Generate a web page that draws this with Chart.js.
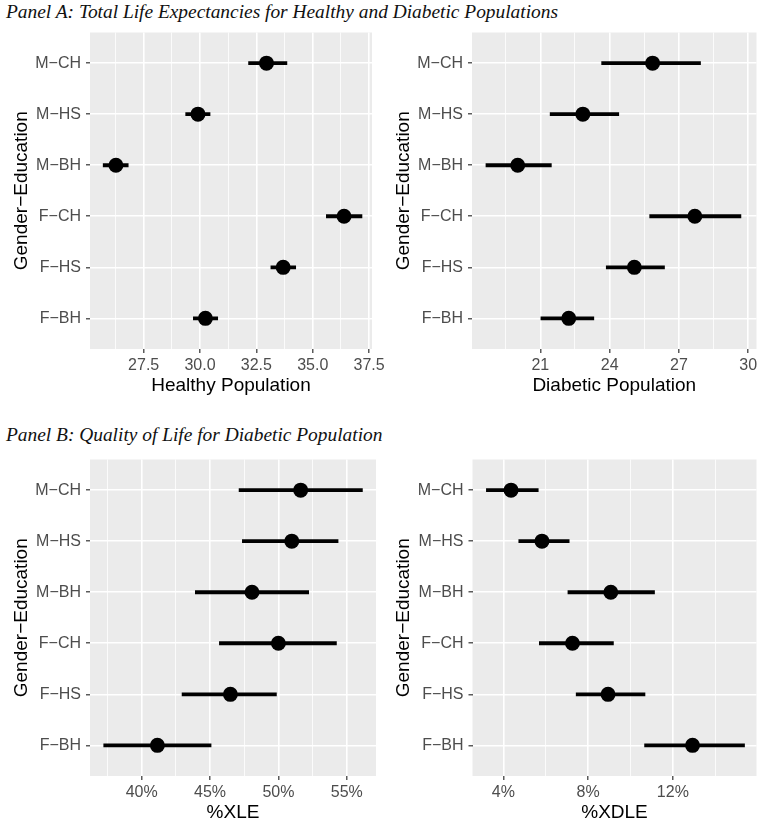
<!DOCTYPE html>
<html>
<head>
<meta charset="utf-8">
<script src="https://cdn.jsdelivr.net/npm/chart.js@4.4.0/dist/chart.umd.min.js"></script>
<style>
  body { margin: 0; background: #fff; width: 764px; height: 823px; position: relative; overflow: hidden; }
  .panel-title { position: absolute; left: 6px; font: italic 19.4px "Liberation Serif", serif; color: #111; white-space: nowrap; }
  canvas { position: absolute; }
</style>
</head>
<body>
<div class="panel-title" style="top:1px">Panel A: Total Life Expectancies for Healthy and Diabetic Populations</div>
<div class="panel-title" style="top:424px">Panel B: Quality of Life for Diabetic Population</div>
<canvas id="healthy" width="400" height="375" style="left:0;top:22px"></canvas>
<canvas id="xle" width="400" height="375" style="left:0;top:449px"></canvas>
<canvas id="diabetic" width="382" height="375" style="left:382px;top:22px"></canvas>
<canvas id="xdle" width="382" height="375" style="left:382px;top:449px"></canvas>
<script>
// rows, top to bottom
const categories = ["M\u2212CH", "M\u2212HS", "M\u2212BH", "F\u2212CH", "F\u2212HS", "F\u2212BH"];

// Panel A - healthy population life expectancy
const healthyPt = [32.95, 29.91, 26.27, 36.39, 33.69, 30.24];
const healthyLo = [32.14, 29.35, 25.69, 35.59, 33.13, 29.69];
const healthyHi = [33.87, 30.46, 26.83, 37.20, 34.26, 30.80];

// Panel A - diabetic population life expectancy
const diabeticPt = [25.86, 22.84, 20.02, 27.69, 25.07, 22.23];
const diabeticLo = [23.64, 21.41, 18.63, 25.72, 23.84, 21.01];
const diabeticHi = [27.95, 24.41, 21.49, 29.70, 26.39, 23.33];

// Panel B - %XLE
const xlePt = [51.63, 50.98, 48.07, 50.00, 46.49, 41.15];
const xleLo = [47.10, 47.34, 43.90, 45.66, 42.93, 37.20];
const xleHi = [56.17, 54.39, 52.24, 54.27, 49.88, 45.10];

// Panel B - %XDLE
const xdlePt = [4.36, 5.82, 9.07, 7.26, 8.94, 12.93];
const xdleLo = [3.18, 4.71, 7.03, 5.68, 7.42, 10.65];
const xdleHi = [5.66, 7.12, 11.15, 9.21, 10.70, 15.40];

const panelBg = {
  id: "panelBg",
  beforeDraw(chart) {
    const a = chart.chartArea;
    const ctx = chart.ctx;
    ctx.save();
    ctx.fillStyle = "#EBEBEB";
    ctx.fillRect(a.left, a.top, a.right - a.left, a.bottom - a.top);
    ctx.restore();
  }
};

function isMajor(v, major) {
  const r = v / major;
  return Math.abs(r - Math.round(r)) < 1e-6;
}

function makeChart(id, pts, lo, hi, o) {
  const datasets = [{
    data: pts.map((v, i) => ({ x: v, y: i })),
    pointRadius: 7.5,
    pointBackgroundColor: "#000",
    pointBorderWidth: 0,
    showLine: false
  }];
  lo.forEach((l, i) => {
    datasets.push({
      data: [{ x: l, y: i }, { x: hi[i], y: i }],
      showLine: true,
      borderColor: "#000",
      borderWidth: 3.8,
      borderCapStyle: "butt",
      pointRadius: 0
    });
  });

  const tickFont = { family: "'Liberation Sans', Arial, sans-serif", size: 16 };
  const titleFont = { family: "'Liberation Sans', Arial, sans-serif", size: 19 };

  new Chart(document.getElementById(id), {
    type: "scatter",
    data: { datasets },
    plugins: [panelBg],
    options: {
      responsive: false,
      animation: false,
      layout: { padding: { top: 10.5, right: o.padRight, bottom: 0, left: 0 } },
      plugins: { legend: { display: false }, tooltip: { enabled: false } },
      scales: {
        x: {
          type: "linear",
          min: o.min,
          max: o.max,
          afterFit: (s) => {
            s.height = 48;
            s.paddingLeft = 0;
            s.paddingRight = 0;
          },
          border: { display: false },
          grid: {
            color: "#FFFFFF",
            lineWidth: (c) => (isMajor(c.tick.value, o.major) ? 1.6 : 0.8),
            tickColor: (c) => (isMajor(c.tick.value, o.major) ? "#333333" : "rgba(0,0,0,0)"),
            tickLength: 4,
            tickWidth: 1.2
          },
          ticks: {
            stepSize: o.major / 2,
            includeBounds: false,
            autoSkip: false,
            maxRotation: 0,
            padding: 3,
            color: "#4D4D4D",
            font: tickFont,
            callback: (v) => (isMajor(v, o.major) ? o.fmt(v) : "")
          },
          title: { display: true, text: o.title, color: "#000", font: titleFont, padding: 0 }
        },
        y: {
          type: "linear",
          reverse: true,
          min: -0.6,
          max: 5.6,
          afterFit: (s) => {
            s.width = o.left;
            s.paddingTop = 0;
            s.paddingBottom = 0;
          },
          border: { display: false },
          grid: {
            color: "#FFFFFF",
            lineWidth: 1.6,
            tickColor: "#333333",
            tickLength: 4,
            tickWidth: 1.2
          },
          ticks: {
            stepSize: 1,
            includeBounds: false,
            autoSkip: false,
            padding: 5,
            color: "#4D4D4D",
            font: tickFont,
            callback: (v) => categories[v]
          },
          title: {
            display: true,
            text: "Gender\u2212Education",
            color: "#000",
            font: titleFont,
            padding: { top: 10, bottom: 0 }
          }
        }
      }
    }
  });
}

makeChart("healthy", healthyPt, healthyLo, healthyHi, {
  min: 25.12, max: 37.63, major: 2.5, left: 90, padRight: 28,
  title: "Healthy Population", fmt: (v) => v.toFixed(1)
});
makeChart("diabetic", diabeticPt, diabeticLo, diabeticHi, {
  min: 18.04, max: 30.36, major: 3, left: 90, padRight: 4.5,
  title: "Diabetic Population", fmt: (v) => String(v)
});
makeChart("xle", xlePt, xleLo, xleHi, {
  min: 36.22, max: 57.14, major: 5, left: 90, padRight: 24,
  title: "%XLE", fmt: (v) => v + "%"
});
makeChart("xdle", xdlePt, xdleLo, xdleHi, {
  min: 2.54, max: 15.95, major: 4, left: 90.5, padRight: 6.3,
  title: "%XDLE", fmt: (v) => v + "%"
});
</script>
</body>
</html>
